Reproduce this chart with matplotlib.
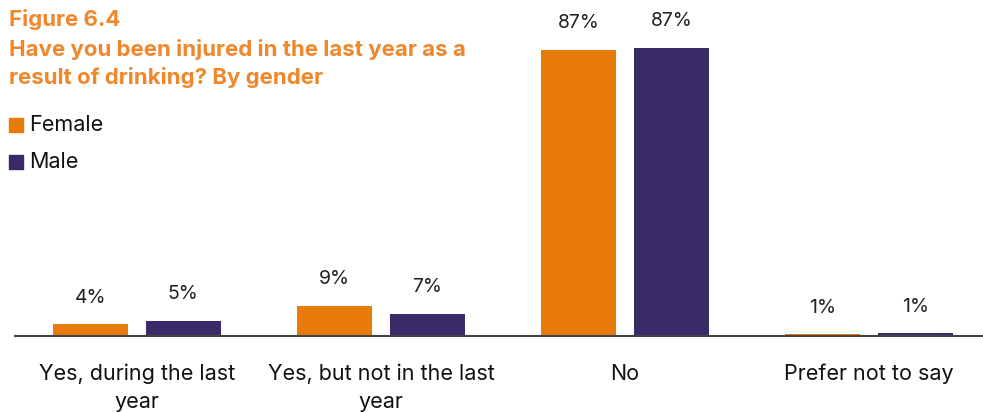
import numpy as np
import matplotlib.pyplot as plt
from matplotlib.patches import Rectangle

plt.rcParams['font.family'] = ['Inter', 'DejaVu Sans']

# survey answers and shares (%) by gender
categories = ['Yes, during the last\nyear', 'Yes, but not in the last\nyear', 'No', 'Prefer not to say']
female = [3.6, 9.2, 86.8, 0.6]
male = [4.6, 6.8, 87.4, 0.9]
series_names = ['Female', 'Male']

ORANGE = '#E97B0B'
PURPLE = '#3A2A67'
TITLE_ORANGE = '#F0872A'

fig = plt.figure(figsize=(9.83, 4.12), dpi=100)
ax = fig.add_axes([15 / 983, 76 / 412, 968 / 983, 336 / 412])

x = np.arange(len(categories))
width = 0.307
offset = 0.19
bars_f = ax.bar(x - offset, female, width, color=ORANGE)
bars_m = ax.bar(x + offset, male, width, color=PURPLE)

for bars, vals in ((bars_f, female), (bars_m, male)):
    for b, v in zip(bars, vals):
        ax.annotate(f'{v:.0f}%', (b.get_x() + b.get_width() / 2, v),
                    xytext=(0, 19), textcoords='offset points',
                    ha='center', va='center', fontsize=14, color='#222222')

ax.set_xlim(-0.5, 3.467)
ax.set_ylim(0, 101.8)
ax.set_xticks(x)
ax.set_xticklabels(categories, fontsize=15.5, color='#111111', linespacing=1.5)
ax.tick_params(axis='x', length=0, pad=20)
ax.set_yticks([])
for side in ('top', 'right', 'left'):
    ax.spines[side].set_visible(False)
ax.spines['bottom'].set_color('#444444')
ax.spines['bottom'].set_linewidth(1.5)
ax.patch.set_alpha(0)

# title block
title_lines = ['Figure 6.4', 'Have you been injured in the last year as a',
               'result of drinking? By gender']
for line, yc in zip(title_lines, (20, 50, 77)):
    fig.text(9 / 983, 1 - yc / 412, line, fontsize=16, fontweight='bold',
             color=TITLE_ORANGE, va='center', ha='left')

# legend drawn as squares with labels
for name, col, yc in zip(series_names, (ORANGE, PURPLE), (125, 162)):
    fig.patches.append(Rectangle((9 / 983, 1 - (yc + 7) / 412), 14 / 983, 14 / 412,
                                 transform=fig.transFigure, color=col))
    fig.text(29 / 983, 1 - yc / 412, name, fontsize=15.5, color='#111111',
             va='center', ha='left')

plt.savefig('out.png', dpi=100)
